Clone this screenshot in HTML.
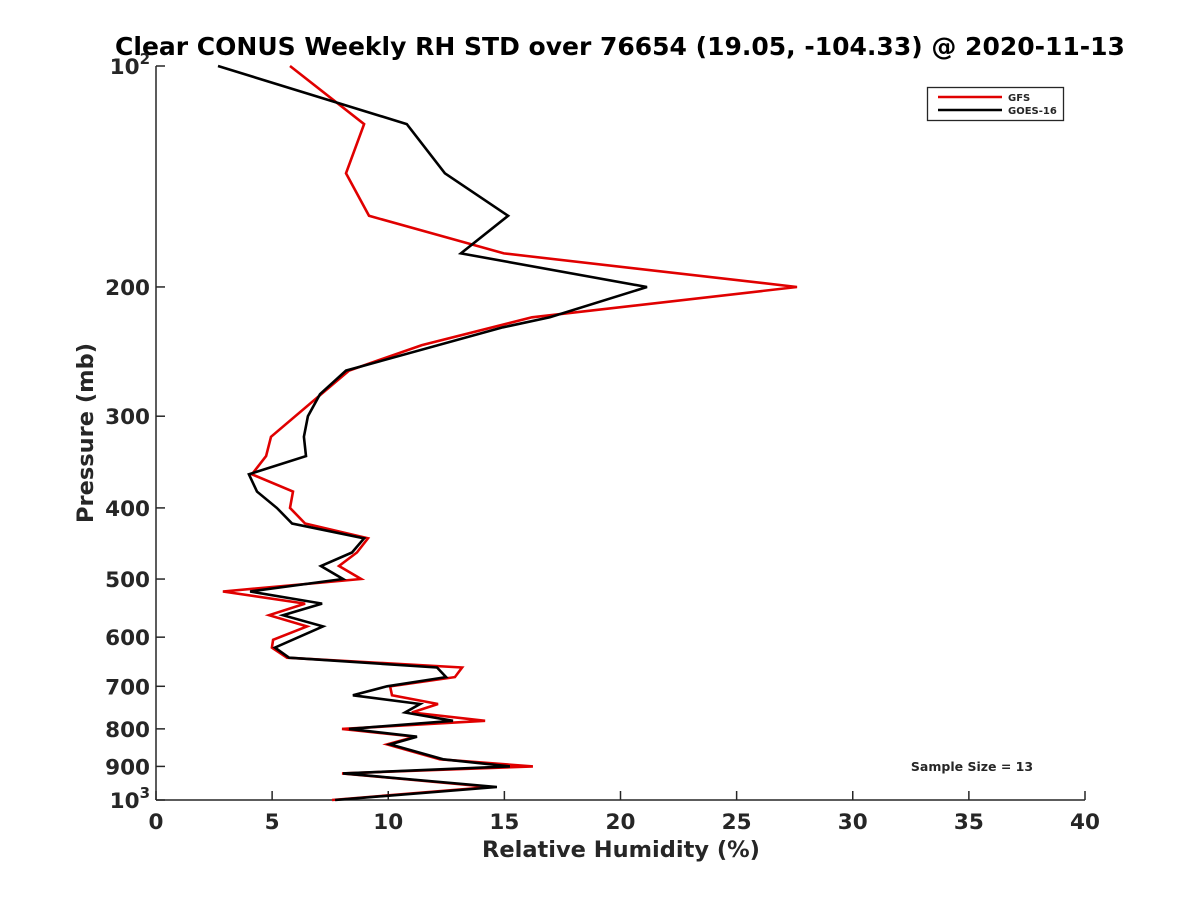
<!DOCTYPE html>
<html><head><meta charset="utf-8"><style>
body{margin:0;background:#fff;}
svg text{font-family:"DejaVu Sans","Liberation Sans",sans-serif;font-weight:bold;fill:#262626;}
</style></head><body>
<svg id="chart" width="1200" height="900" xmlns="http://www.w3.org/2000/svg">
<rect width="1200" height="900" fill="#fff"/>
<text x="620" y="55" font-size="25" text-anchor="middle" fill="#000" style="fill:#000">Clear CONUS Weekly RH STD over 76654 (19.05, -104.33) @ 2020-11-13</text>
<g id="axes"></g>
<g id="series"></g>
<text x="621" y="857" font-size="22.5" text-anchor="middle">Relative Humidity (%)</text>
<text transform="translate(93,433) rotate(-90)" font-size="22.5" text-anchor="middle">Pressure (mb)</text>
<g>
<rect x="927.5" y="87.5" width="136" height="33" fill="#fff" stroke="#262626" stroke-width="1.3"/>
<line x1="938" y1="97" x2="1002" y2="97" stroke="#e00000" stroke-width="2.5"/>
<text x="1008" y="101" font-size="10">GFS</text>
<line x1="938" y1="110" x2="1002" y2="110" stroke="#000" stroke-width="2.5"/>
<text x="1008" y="114" font-size="10">GOES-16</text>
</g>
<text x="972" y="771" font-size="12.5" text-anchor="middle" fill="#000">Sample Size = 13</text>
</svg>
<script>
const xTicks=[0,5,10,15,20,25,30,35,40];
const yTicks=[100,200,300,400,500,600,700,800,900,1000];
const yTickLabels=["10²","200","300","400","500","600","700","800","900","10³"];
const goesP=[100,120,140,160,180,200,220,227,260,280,300,320,340,360,380,400,420,440,460,480,500,520,540,560,580,620,640,660,680,700,720,740,760,780,800,820,840,880,900,920,960,1000];
const goesRH=[2.67,10.8,12.44,15.16,13.13,21.14,16.96,14.94,8.18,7.06,6.54,6.37,6.46,4.0,4.35,5.2,5.86,8.96,8.44,7.1,8.05,4.05,7.15,5.47,7.19,5.12,5.73,12.1,12.49,9.95,8.48,11.37,10.72,12.79,8.31,11.24,10.08,12.36,15.24,8.05,14.68,7.71];
const gfsP=[100,120,140,160,180,200,220,240,260,320,340,360,380,400,420,440,460,480,500,520,540,560,580,605,620,640,660,680,700,720,740,760,780,800,820,840,880,900,920,960,1000];
const gfsRH=[5.77,8.96,8.18,9.17,14.98,27.6,16.19,11.45,8.31,4.95,4.74,4.13,5.9,5.77,6.42,9.13,8.65,7.88,8.83,2.88,6.42,4.87,6.5,5.04,4.99,5.64,13.18,12.87,10.08,10.16,12.14,11.02,14.17,8.01,11.15,9.95,12.23,16.23,8.01,14.38,7.58];
const X0=156,X1=1085,Y0=66,Y1=800;
function xs(v){return X0+(v-0)/(40-0)*(X1-X0);}
function ys(p){return Y0+(Math.log10(p)-2)/(3-2)*(Y1-Y0);}
const NS="http://www.w3.org/2000/svg";
function mk(t,a,parent){const e=document.createElementNS(NS,t);for(const k in a)e.setAttribute(k,a[k]);parent.appendChild(e);return e;}
const ax=document.getElementById('axes');
let l=mk('line',{x1:X0,y1:Y0,x2:X0,y2:Y1,stroke:'#262626','stroke-width':1.5},ax);


l=mk('line',{x1:X0,y1:Y1,x2:X1,y2:Y1,stroke:'#262626','stroke-width':1.5},ax);


xTicks.forEach(v=>{
  const x=xs(v);
  const t=mk('line',{x1:x,y1:Y1,x2:x,y2:Y1-9,stroke:'#262626','stroke-width':1.5},ax);
  
  
  const tx=mk('text',{x:x,y:Y1+29,'font-size':21.5,'text-anchor':'middle'},ax);
  tx.textContent=v;
  
  
});
yTicks.forEach((p,i)=>{
  const y=ys(p);
  const t=mk('line',{x1:X0,y1:y,x2:X0+9,y2:y,stroke:'#262626','stroke-width':1.5},ax);
  
  
  const tx=mk('text',{x:X0-6,y:y+8,'font-size':21.5,'text-anchor':'end'},ax);
  const lab=yTickLabels[i];
  if(lab.length===3&&lab.startsWith('10')){tx.textContent='10';const s=mk('tspan',{dy:-10,'font-size':15},tx);s.textContent=lab.endsWith('²')?'2':'3';}
  else tx.textContent=lab;
  
  
});
const sg=document.getElementById('series');
function draw(P,V,color,name){
  const pts=P.map((p,i)=>xs(V[i]).toFixed(1)+','+ys(p).toFixed(1)).join(' ');
  const pl=mk('polyline',{points:pts,fill:'none',stroke:color,'stroke-width':2.6,'stroke-linejoin':'miter'},sg);
  
  
}
draw(gfsP,gfsRH,'#e00000','gfs-line');
draw(goesP,goesRH,'#000','goes16-line');
</script>
</body></html>
